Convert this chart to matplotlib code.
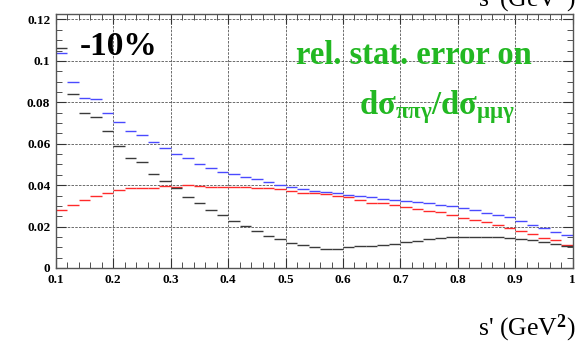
import matplotlib.pyplot as plt
import numpy as np

plt.rcParams['font.family'] = ['Liberation Serif', 'DejaVu Serif']
plt.rcParams['mathtext.fontset'] = 'custom'
plt.rcParams['mathtext.rm'] = 'Liberation Serif:bold'
plt.rcParams['mathtext.bf'] = 'Liberation Serif:bold'
plt.rcParams['mathtext.it'] = 'Liberation Serif:bold'

# bin edges of s' (GeV^2), 0.02 wide
lo = np.arange(0.10, 1.00, 0.02)
hi = lo + 0.02

# relative statistical error per bin
err_blue = [0.104, 0.090, 0.082, 0.0815, 0.075, 0.0705, 0.066, 0.064, 0.061, 0.058,
            0.055, 0.053, 0.0502, 0.0485, 0.0465, 0.0452, 0.044, 0.0428, 0.0415, 0.0403,
            0.0392, 0.038, 0.0373, 0.0366, 0.036, 0.0353, 0.0347, 0.0341, 0.0335, 0.0329,
            0.0325, 0.0318, 0.0312, 0.0303, 0.0297, 0.0288, 0.0281, 0.0266, 0.0254, 0.0244,
            0.0228, 0.0208, 0.0193, 0.0176, 0.0158]
err_red = [0.0278, 0.0305, 0.0328, 0.0347, 0.0362, 0.0376, 0.0388, 0.0386, 0.0388, 0.0398,
           0.0393, 0.0400, 0.0394, 0.0393, 0.0393, 0.0390, 0.0389, 0.0388, 0.0384, 0.0379,
           0.0371, 0.0364, 0.0362, 0.0356, 0.0350, 0.0345, 0.0326, 0.0316, 0.0312, 0.0302,
           0.0296, 0.0286, 0.0276, 0.0268, 0.0258, 0.0240, 0.0233, 0.0221, 0.0206, 0.0192,
           0.0178, 0.0162, 0.0146, 0.0133, 0.0112]
err_black = [0.106, 0.084, 0.075, 0.073, 0.066, 0.059, 0.053, 0.051, 0.0455, 0.042,
             0.0388, 0.0345, 0.0315, 0.028, 0.0254, 0.0225, 0.0205, 0.018, 0.0153, 0.0138,
             0.0123, 0.0112, 0.0103, 0.0092, 0.0090, 0.0102, 0.0106, 0.0104, 0.0110, 0.0118,
             0.0126, 0.0132, 0.0139, 0.0143, 0.0148, 0.0148, 0.0148, 0.0148, 0.0148, 0.0147,
             0.0140, 0.0136, 0.0126, 0.0114, 0.0104]

xticks = [0.1, 0.2, 0.3, 0.4, 0.5, 0.6, 0.7, 0.8, 0.9, 1.0]
xticklabels = ['0.1', '0.2', '0.3', '0.4', '0.5', '0.6', '0.7', '0.8', '0.9', '1']
yticks = [0, 0.02, 0.04, 0.06, 0.08, 0.1, 0.12]
yticklabels = ['0', '0.02', '0.04', '0.06', '0.08', '0.1', '0.12']

fig = plt.figure(figsize=(5.82, 3.44), dpi=100)
ax = fig.add_axes([0.096, 0.221, 0.889, 0.738])

ax.hlines(err_blue, lo, hi, color='#4a4aff', lw=1.0)
ax.hlines(err_red, lo, hi, color='#ff2a2a', lw=1.0)
ax.hlines(err_black, lo, hi, color='#3a3a3a', lw=1.0)

ax.set_xlim(0.1, 1.001)
ax.set_ylim(0, 0.1226)
ax.set_xticks(xticks)
ax.set_xticklabels(xticklabels)
ax.set_yticks(yticks)
ax.set_yticklabels(yticklabels)
ax.set_xticks(np.arange(0.1, 1.0, 0.02), minor=True)
ax.set_yticks(np.arange(0, 0.1226, 0.005), minor=True)
ax.tick_params(which='both', direction='in', top=True, right=True, colors='#333333',
               labelcolor='black')
ax.tick_params(which='major', length=7, width=0.8, labelsize=9.5, pad=4)
ax.tick_params(which='minor', length=4, width=0.6)
for lab in ax.get_xticklabels() + ax.get_yticklabels():
    lab.set_fontweight('bold')
ax.grid(True, which='major', color='#555555', lw=0.6, linestyle=(0, (3, 1.5)))
for s in ax.spines.values():
    s.set_color('#555555')
    s.set_linewidth(1.0)

ax.text(0.142, 0.1068, '-10%', fontsize=24, fontweight='bold', ha='left', va='center')
fig.text(0.508, 0.84, 'rel. stat. error on', fontsize=23.5, fontweight='bold',
         color='#22b822', ha='left', va='center')
fig.text(0.617, 0.69, r'$\mathbf{dσ_{ππγ}/dσ_{μμγ}}$', fontsize=23.5,
         color='#22b822', ha='left', va='center')
fig.text(0.988, 0.025, "s' (GeV$^{2}$)", fontsize=18.5, ha='right', va='baseline')
fig.text(0.988, 0.98, "s' (GeV$^{2}$)", fontsize=18.5, ha='right', va='baseline')

fig.savefig('out.png', dpi=100)
